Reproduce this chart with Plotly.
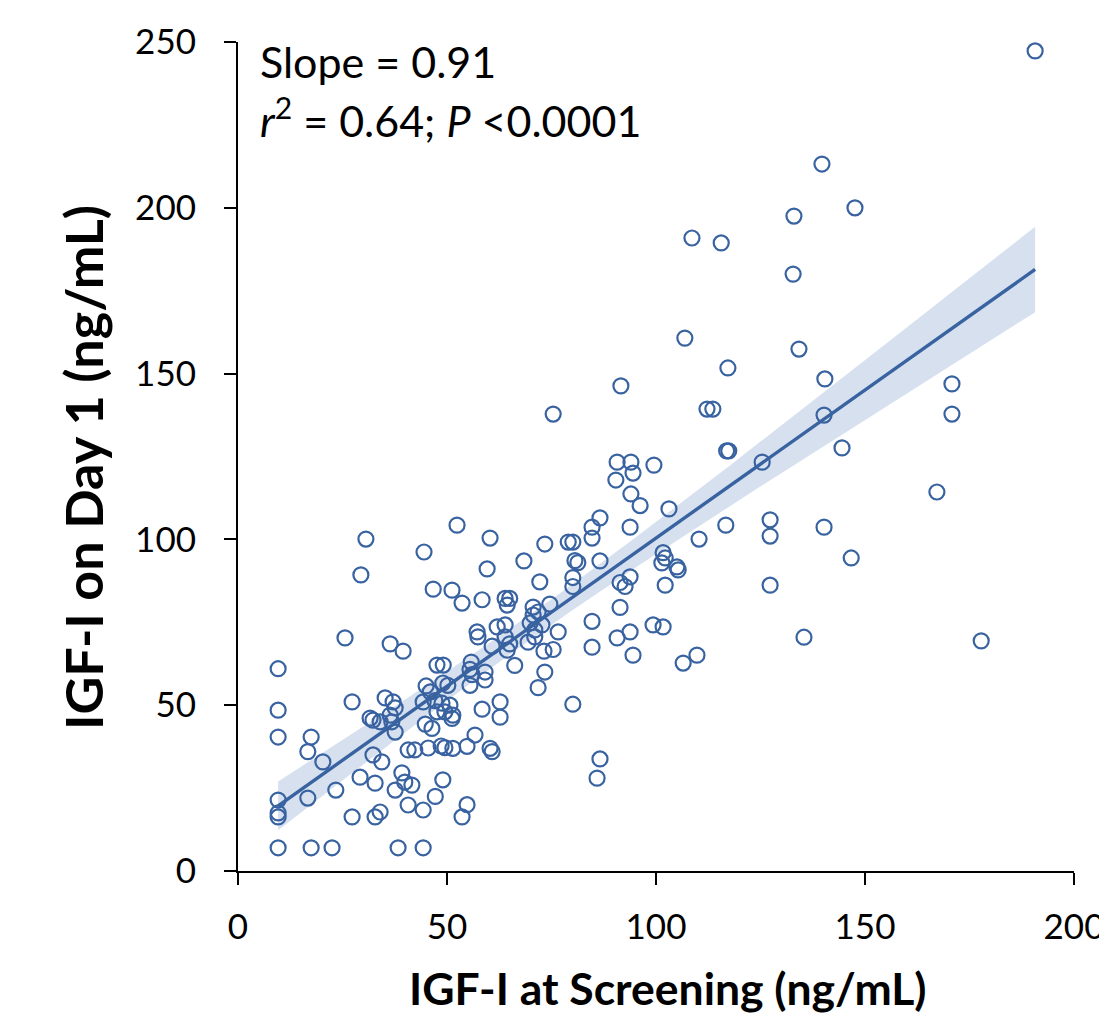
import numpy as np
import plotly.graph_objects as go

# IGF-I at screening (x) and on Day 1 (y), ng/mL
screening = [
    9.6, 9.6, 9.6, 9.6, 9.6, 9.6, 9.6,
    17.5, 16.7, 20.3, 16.7, 17.5, 22.5, 23.4,
    27.3, 27.3, 29.2, 32.8, 32.3, 34.4,
    31.6, 32.3, 34.0, 35.2, 37.1, 37.6, 36.4, 36.8, 37.6,
    32.8, 34.0, 36.4, 39.5, 25.6,
    39.2, 39.9, 41.6, 37.6, 40.7, 44.3, 38.3, 44.3,
    47.2, 49.0,
    44.8, 46.4, 40.7, 42.3, 45.5, 48.6, 49.5, 51.4, 54.8,
    60.3, 60.8, 56.7, 54.8, 53.6,
    47.6, 49.1, 49.0, 50.2, 45.0, 46.0, 44.3,
    47.1, 48.8, 50.7, 47.6, 49.5, 51.4, 51.2,
    55.8, 55.5, 56.0, 59.1, 59.1, 55.5,
    58.4, 62.7, 62.7,
    60.8, 64.4, 65.0, 69.4, 66.2, 73.2, 75.4, 73.4, 71.8,
    57.2, 57.4, 62.0, 63.9, 63.9,
    69.9, 71.0, 72.7, 71.0,
    53.6, 58.4, 63.9, 65.0, 64.4,
    70.6, 71.8, 70.6, 74.6,
    51.2, 46.7, 59.6, 60.3, 52.4, 44.5, 30.6, 29.4,
    68.4, 72.2, 73.4, 79.0, 80.1, 80.6, 81.3, 80.1, 80.1,
    84.7, 84.7, 86.6, 86.6, 93.8, 96.2,
    91.4, 92.6, 93.8, 91.4, 84.7, 76.6, 99.3, 101.7,
    90.7, 93.8, 84.7, 94.5, 80.1, 86.6, 85.9,
    190.7, 139.7, 133.0, 147.6, 108.6, 115.6, 132.8, 106.9, 134.2, 91.6,
    117.2, 75.4, 112.2, 113.6, 140.2, 170.8, 170.8, 140.4, 116.9, 117.4,
    125.4, 144.5, 90.7, 94.0, 90.4, 94.5, 99.5, 94.0, 103.1, 167.2,
    116.7, 127.3, 127.3, 140.2, 110.3, 146.7,
    101.7, 102.2, 101.4, 105.0, 105.3, 102.2, 127.3, 106.5, 109.8, 135.4, 177.8,
]
day1 = [
    61.0, 48.5, 40.4, 21.4, 17.5, 16.3, 7.0,
    40.4, 36.0, 32.9, 22.0, 7.0, 7.0, 24.4,
    51.0, 16.3, 28.3, 26.5, 35.0, 32.9,
    46.1, 45.5, 45.0, 52.2, 51.0, 49.2, 47.0, 45.0, 41.9,
    16.3, 17.8, 68.5, 66.3, 70.3,
    29.6, 26.8, 25.9, 24.4, 19.9, 18.4, 7.0, 7.0,
    22.5, 27.5,
    44.3, 43.0, 36.5, 36.5, 37.1, 37.7, 37.2, 37.0, 37.6,
    37.0, 36.0, 41.0, 20.0, 16.3,
    62.1, 62.1, 56.7, 56.0, 55.8, 54.0, 51.0,
    51.4, 50.6, 50.0, 48.0, 48.0, 47.0, 46.0,
    63.0, 60.8, 59.2, 60.0, 57.6, 56.0,
    48.8, 51.0, 46.4,
    67.8, 66.6, 68.5, 69.0, 62.0, 66.3, 66.8, 60.0, 55.3,
    72.1, 70.6, 73.6, 74.2, 70.6,
    74.8, 72.7, 74.2, 70.6,
    80.8, 81.8, 82.2, 82.2, 80.2,
    79.6, 78.1, 77.2, 80.5,
    84.7, 85.0, 91.1, 100.4, 104.3, 96.2, 100.1, 89.3,
    93.5, 87.2, 98.6, 99.2, 99.2, 93.6, 93.0, 88.5, 85.8,
    103.7, 100.4, 106.5, 93.5, 103.7, 110.2,
    87.0, 85.8, 88.7, 79.5, 75.3, 72.1, 74.2, 73.6,
    70.3, 72.1, 67.5, 65.1, 50.3, 33.8, 28.0,
    247.3, 213.2, 197.5, 200.0, 190.9, 189.4, 180.0, 160.7, 157.4, 146.3,
    151.7, 137.8, 139.3, 139.3, 137.5, 146.9, 137.8, 148.4, 126.7, 126.7,
    123.3, 127.6, 123.3, 123.3, 117.9, 120.0, 122.4, 113.7, 109.2, 114.3,
    104.3, 105.9, 101.0, 103.7, 100.1, 94.4,
    96.0, 94.4, 92.9, 91.7, 90.8, 86.2, 86.2, 62.7, 65.1, 70.5, 69.4,
]

x_ticks = [0, 50, 100, 150, 200]
y_ticks = [0, 50, 100, 150, 200, 250]
x_title = "IGF-I at Screening (ng/mL)"
y_title = "IGF-I on Day 1 (ng/mL)"
stat_line1 = "Slope = 0.91"
stat_line2 = "<i>r</i><sup>2</sup> = 0.64; <i>P</i> &lt;0.0001"

# --- linear regression with 95% confidence band, computed from the data
x = np.array(screening)
y = np.array(day1)
n = len(x)
b1, b0 = np.polyfit(x, y, 1)
resid = y - (b0 + b1 * x)
s = np.sqrt(np.sum(resid ** 2) / (n - 2))
xm = x.mean()
sxx = np.sum((x - xm) ** 2)
xs = np.linspace(x.min(), x.max(), 100)
ys = b0 + b1 * xs
se = s * np.sqrt(1.0 / n + (xs - xm) ** 2 / sxx)
tval = 1.972
lo = ys - tval * se
hi = ys + tval * se

blue = "#3862a0"
band = "rgba(180,199,224,0.55)"
font = "Lato"

fig = go.Figure()
fig.add_trace(go.Scatter(
    x=np.concatenate([xs, xs[::-1]]), y=np.concatenate([hi, lo[::-1]]),
    fill="toself", fillcolor=band, line=dict(width=0), mode="lines",
    hoverinfo="skip", showlegend=False))
fig.add_trace(go.Scatter(
    x=x, y=y, mode="markers",
    marker=dict(symbol="circle-open", size=15, color=blue, line=dict(width=2.2, color=blue)),
    showlegend=False))
fig.add_trace(go.Scatter(
    x=xs, y=ys, mode="lines", line=dict(color=blue, width=3.4), showlegend=False))

fig.add_annotation(xref="paper", yref="paper", x=0.024, y=0.976, xanchor="left", yanchor="middle",
                   text=stat_line1, showarrow=False, font=dict(family=font, size=43, color="black"))
fig.add_annotation(xref="paper", yref="paper", x=0.024, y=0.909, xanchor="left", yanchor="middle",
                   text=stat_line2, showarrow=False, font=dict(family=font, size=43, color="black"))

# axis titles placed as annotations at the reference positions
fig.add_annotation(xref="paper", yref="paper", x=0.514, y=-0.1405, xanchor="center", yanchor="middle",
                   text="<b>" + x_title + "</b>", showarrow=False,
                   font=dict(family=font, size=44.5, color="black"))
fig.add_annotation(xref="paper", yref="paper", x=-0.1846, y=0.487, xanchor="center", yanchor="middle",
                   textangle=-90, text="<b>" + y_title + "</b>", showarrow=False,
                   font=dict(family=font, size=52, color="black"))

# page body has an 8px margin, so the figure is 8px smaller and margins shifted
fig.update_layout(
    width=1099, height=1006, autosize=False,
    margin=dict(l=230, r=33, t=34, b=143),
    plot_bgcolor="white", paper_bgcolor="white",
    font=dict(family=font, color="black"),
    xaxis=dict(range=[0, 200], tickvals=x_ticks, showgrid=False, zeroline=False,
               showline=True, linecolor="black", linewidth=2, automargin=False,
               ticks="outside", ticklen=12, tickwidth=2, tickcolor="black",
               tickfont=dict(size=35), ticklabelstandoff=12),
    yaxis=dict(range=[0, 250], tickvals=y_ticks, showgrid=False, zeroline=False,
               showline=True, linecolor="black", linewidth=2, automargin=False,
               ticks="outside", ticklen=12, tickwidth=2, tickcolor="black",
               tickfont=dict(size=35), ticklabelstandoff=21),
)

fig.write_html("out.html")
